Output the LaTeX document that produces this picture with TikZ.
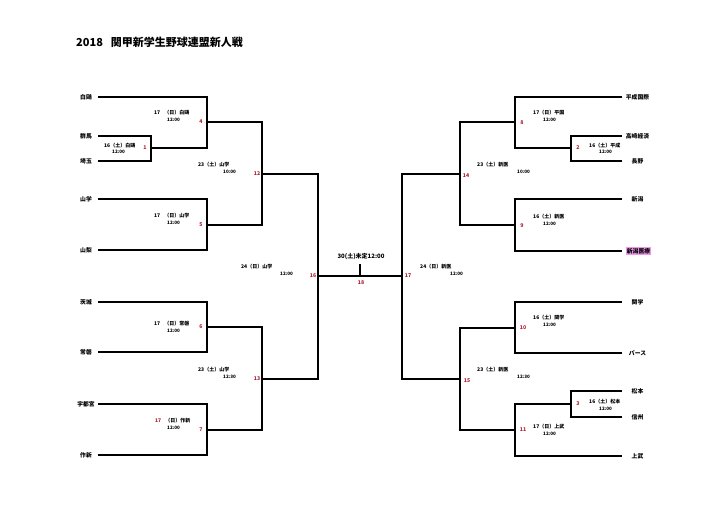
\documentclass[tikz,border=0pt]{standalone}
\usepackage{fontspec}
\setmainfont{Noto Sans CJK JP}
\definecolor{numred}{RGB}{175,30,45}
\definecolor{hlpink}{RGB}{238,150,232}
\begin{document}
\begin{tikzpicture}[x=1pt,y=-1pt,
 br/.style={line width=1.9pt,line join=miter},
 team/.style={font=\bfseries\fontsize{5.8}{6}\selectfont,inner sep=0pt},
 info/.style={font=\bfseries\fontsize{5}{5.5}\selectfont,inner sep=0pt,anchor=west},
 tm/.style={font=\bfseries\fontsize{4.6}{5}\selectfont,inner sep=0pt,anchor=west},
 num/.style={font=\bfseries\fontsize{5.2}{5.5}\selectfont,inner sep=0pt,text=numred},
]
\fill[white] (0,0) rectangle (720,511);
\useasboundingbox (0,0) rectangle (720,511);

\node[font=\bfseries\fontsize{11}{12}\selectfont,anchor=west,inner sep=0pt] (title) at (76,42) {2018\hspace{8pt}関甲新学生野球連盟新人戦};

% ---- left teams
\node[team] (tHakuo) at (86,97) {白鷗};      \coordinate (lHakuo) at (98,97);
\node[team] (tGunma) at (86,136) {群馬};     \coordinate (lGunma) at (98,136);
\node[team] (tSaitama) at (86,161) {埼玉};   \coordinate (lSaitama) at (98,161);
\node[team] (tYamagaku) at (86,199) {山学};  \coordinate (lYamagaku) at (98,199);
\node[team] (tYamanashi) at (86,250) {山梨}; \coordinate (lYamanashi) at (98,250);
\node[team] (tIbaraki) at (86,302) {茨城};   \coordinate (lIbaraki) at (98,302);
\node[team] (tTokiwa) at (86,352) {常磐};    \coordinate (lTokiwa) at (98,352);
\node[team] (tUtsu) at (86,404) {宇都宮};    \coordinate (lUtsu) at (98,404);
\node[team] (tSakushin) at (86,455) {作新};  \coordinate (lSakushin) at (98,455);

% ---- right teams
\node[team] (tHeisei) at (637.5,97) {平成国際};   \coordinate (rHeisei) at (622,97);
\node[team] (tTakasaki) at (637.5,136) {高崎経済}; \coordinate (rTakasaki) at (622,136);
\node[team] (tNagano) at (637.5,161) {長野};      \coordinate (rNagano) at (622,161);
\node[team] (tNiigata) at (637.5,199) {新潟};     \coordinate (rNiigata) at (622,199);
\node[team,fill=hlpink,inner sep=0.8pt] (tNiiiryo) at (638.5,251) {新潟医療}; \coordinate (rNiiiryo) at (622,251);
\node[team] (tKangaku) at (637.5,302) {関学};     \coordinate (rKangaku) at (622,302);
\node[team] (tPaasu) at (637.5,353) {パース};     \coordinate (rPaasu) at (622,353);
\node[team] (tMatsumoto) at (637.5,391) {松本};   \coordinate (rMatsumoto) at (622,391);
\node[team] (tShinshu) at (637.5,417) {信州};     \coordinate (rShinshu) at (622,417);
\node[team] (tJobu) at (637.5,456) {上武};        \coordinate (rJobu) at (622,456);

% ---- left bracket
\coordinate (m1) at (151,148);
\draw[br] (lGunma) -| (m1) |- (lSaitama);
\coordinate (m4) at (207,122);
\draw[br] (lHakuo) -| (m4) |- (m1);
\coordinate (m5) at (207,225);
\draw[br] (lYamagaku) -| (m5) |- (lYamanashi);
\coordinate (m12) at (262,174);
\draw[br] (m4) -| (m12) |- (m5);
\coordinate (m6) at (207,327);
\draw[br] (lIbaraki) -| (m6) |- (lTokiwa);
\coordinate (m7) at (207,430);
\draw[br] (lUtsu) -| (m7) |- (lSakushin);
\coordinate (m13) at (262,379);
\draw[br] (m6) -| (m13) |- (m7);
\coordinate (m16) at (318,276);
\draw[br] (m12) -| (m16) |- (m13);

% ---- right bracket
\coordinate (m2) at (571,148);
\draw[br] (rTakasaki) -| (m2) |- (rNagano);
\coordinate (m8) at (515,122);
\draw[br] (rHeisei) -| (m8) |- (m2);
\coordinate (m9) at (515,225);
\draw[br] (rNiigata) -| (m9) |- (rNiiiryo);
\coordinate (m14) at (460,174);
\draw[br] (m8) -| (m14) |- (m9);
\coordinate (m10) at (515,328);
\draw[br] (rKangaku) -| (m10) |- (rPaasu);
\coordinate (m3) at (571,404);
\draw[br] (rMatsumoto) -| (m3) |- (rShinshu);
\coordinate (m11) at (515,430);
\draw[br] (m3) -| (m11) |- (rJobu);
\coordinate (m15) at (460,379);
\draw[br] (m10) -| (m15) |- (m11);
\coordinate (m17) at (402,276);
\draw[br] (m14) -| (m17) |- (m15);

% ---- final
\draw[br] (m16) -- (m17);
\coordinate (fin) at (360,264);
\draw[br] (fin) -- (fin |- m16);
\node[font=\bfseries\fontsize{6}{7}\selectfont,inner sep=0pt] (finaltext) at (361,257) {30(土)未定12:00};

% ---- match numbers
\node[num] (n1) at (145,148) {1};
\node[num] (n4) at (201,122) {4};
\node[num] (n5) at (201,225) {5};
\node[num] (n12) at (257,174) {12};
\node[num] (n6) at (201,327) {6};
\node[num] (n7) at (201,430) {7};
\node[num] (n13) at (257,379) {13};
\node[num] (n16) at (313,276) {16};
\node[num] (n18) at (361,283) {18};
\node[num] (n17) at (408,276) {17};
\node[num] (n2) at (578,148) {2};
\node[num] (n8) at (522,123) {8};
\node[num] (n14) at (466,176) {14};
\node[num] (n9) at (522,226) {9};
\node[num] (n10) at (523,328) {10};
\node[num] (n15) at (467,381) {15};
\node[num] (n3) at (578,404) {3};
\node[num] (n11) at (523,430) {11};

% ---- match info, left
\node[info] (i1) at (104,146) {16（土）白鷗};        \node[tm] (h1) at (112,152) {12:00};
\node[info] (i4) at (154,113) {17\hspace{4pt}（日）白鷗}; \node[tm] (h4) at (167,119.5) {12:00};
\node[info] (i5) at (154,216) {17\hspace{4pt}（日）山学}; \node[tm] (h5) at (167,222.5) {12:00};
\node[info] (i12) at (198,165) {23（土）山学};       \node[tm] (h12) at (223,171.5) {10:00};
\node[info] (i6) at (154,324) {17\hspace{4pt}（日）常磐}; \node[tm] (h6) at (167,330.5) {12:00};
\node[info] (i13) at (198,370) {23（土）山学};       \node[tm] (h13) at (223,376.5) {12:30};
\node[info] (i7) at (155,421) {\textcolor{numred}{17}\hspace{4pt}（日）作新}; \node[tm] (h7) at (167,427.5) {12:00};
\node[info] (i16) at (241,267) {24（日）山学};       \node[tm] (h16) at (280,273.5) {12:00};

% ---- match info, right
\node[info] (i2) at (589,146) {16（土）平成};  \node[tm] (h2) at (599,152) {12:00};
\node[info] (i8) at (533,113) {17（日）平国};  \node[tm] (h8) at (543,119.5) {12:00};
\node[info] (i14) at (477,165) {23（土）新医}; \node[tm] (h14) at (517,171.5) {10:00};
\node[info] (i9) at (533,217) {16（土）新医};  \node[tm] (h9) at (543,223.5) {12:00};
\node[info] (i17) at (420,267) {24（日）新医}; \node[tm] (h17) at (450,274) {12:00};
\node[info] (i10) at (533,318) {16（土）関学}; \node[tm] (h10) at (543,324.5) {12:00};
\node[info] (i15) at (477,370) {23（土）新医}; \node[tm] (h15) at (517,376.5) {12:30};
\node[info] (i3) at (589,402) {16（土）松本};  \node[tm] (h3) at (599,408.5) {12:00};
\node[info] (i11) at (533,427) {17（日）上武}; \node[tm] (h11) at (543,434) {12:00};
\end{tikzpicture}
\end{document}
